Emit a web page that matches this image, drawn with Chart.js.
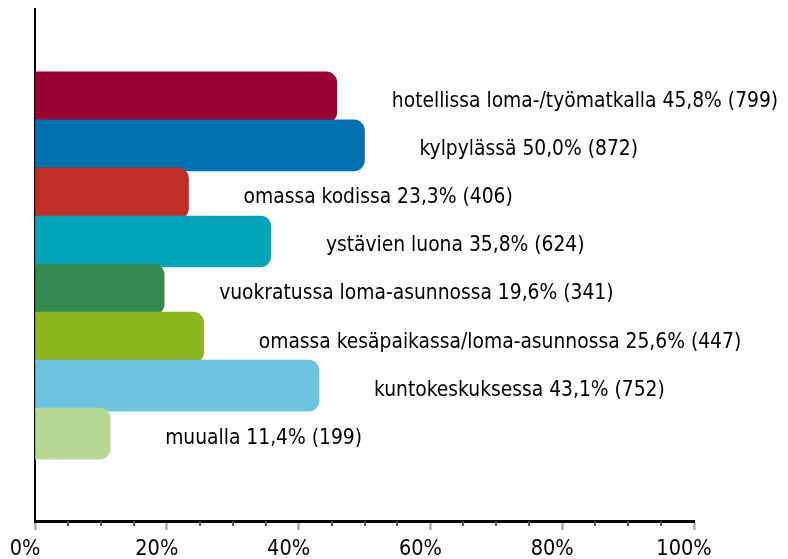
<!DOCTYPE html>
<html>
<head>
<meta charset="utf-8">
<script src="https://cdn.jsdelivr.net/npm/chart.js@4"></script>
<style>
  html, body { margin: 0; padding: 0; background: #fff; }
  canvas { display: block; }
</style>
</head>
<body>
<canvas id="chart" width="788" height="559"></canvas>
<script>
// ===== 数据 =====
const categories = [
    'hotellissa loma-/työmatkalla',
    'kylpylässä',
    'omassa kodissa',
    'ystävien luona',
    'vuokratussa loma-asunnossa',
    'omassa kesäpaikassa/loma-asunnossa',
    'kuntokeskuksessa',
    'muualla'
];
const percents = [45.8, 50.0, 23.3, 35.8, 19.6, 25.6, 43.1, 11.4];
const counts = [799, 872, 406, 624, 341, 447, 752, 199];
const barColors = ['#990033', '#0071af', '#bf2e25', '#00a4b6', '#358a4f', '#8db720', '#6cc4df', '#b4d992'];
const tickValues = [0, 20, 40, 60, 80, 100];
const minorStep = 5;

const FONT = "'DejaVu Sans Condensed', 'DejaVu Sans', sans-serif";

// 柱子旁边的文字
const barLabels = {
    id: 'barLabels',
    afterDatasetsDraw(chart) {
        const ctx = chart.ctx;
        const meta = chart.getDatasetMeta(0);
        ctx.save();
        ctx.font = '20.8px ' + FONT;
        ctx.fillStyle = '#000';
        ctx.textAlign = 'left';
        ctx.textBaseline = 'alphabetic';
        meta.data.forEach((bar, i) => {
            const txt = categories[i] + ' ' + percents[i].toFixed(1).replace('.', ',') + '% (' + counts[i] + ')';
            ctx.fillText(txt, bar.x + 55, bar.y + 10);
        });
        ctx.restore();
    }
};

// 小刻度
const minorTicks = {
    id: 'minorTicks',
    afterDraw(chart) {
        const ctx = chart.ctx;
        const x = chart.scales.x;
        const y0 = chart.chartArea.bottom;
        ctx.save();
        ctx.strokeStyle = '#555';
        ctx.lineWidth = 2;
        for (let v = minorStep; v < 100; v += minorStep) {
            if (v % 20 === 0) continue;
            const px = Math.round(x.getPixelForValue(v));
            ctx.beginPath();
            ctx.moveTo(px, y0);
            ctx.lineTo(px, y0 + 5);
            ctx.stroke();
        }
        ctx.restore();
    }
};

new Chart(document.getElementById('chart'), {
    type: 'bar',
    data: {
        datasets: [{
            data: percents.map((p, i) => ({ x: p, y: i })),
            backgroundColor: barColors,
            borderRadius: 11,
            borderSkipped: 'start',
            barThickness: 51
        }]
    },
    options: {
        indexAxis: 'y',
        responsive: false,
        animation: false,
        devicePixelRatio: 1,
        layout: { padding: { left: 35, right: 94, top: 9, bottom: 0 } },
        plugins: {
            legend: { display: false },
            tooltip: { enabled: false }
        },
        scales: {
            x: {
                type: 'linear',
                min: 0,
                max: 100,
                afterBuildTicks: (scale) => { scale.ticks = tickValues.map(v => ({ value: v })); },
                afterFit: (scale) => { scale.height = 38; },
                ticks: {
                    callback: (v) => v + '%',
                    color: '#000',
                    font: { family: FONT, size: 21.5 },
                    padding: 7,
                    labelOffset: -10,
                    maxRotation: 0
                },
                grid: {
                    drawOnChartArea: false,
                    tickLength: 9,
                    tickWidth: 2,
                    tickColor: '#999'
                },
                border: { display: true, color: '#000', width: 3 }
            },
            y: {
                type: 'linear',
                reverse: true,
                offset: false,
                min: -1.84,
                max: 8.82,
                afterFit: (scale) => { scale.width = 0; },
                ticks: { display: false },
                grid: { display: false, offset: false },
                border: { display: true, color: '#000', width: 2 }
            }
        }
    },
    plugins: [barLabels, minorTicks]
});
</script>
</body>
</html>
